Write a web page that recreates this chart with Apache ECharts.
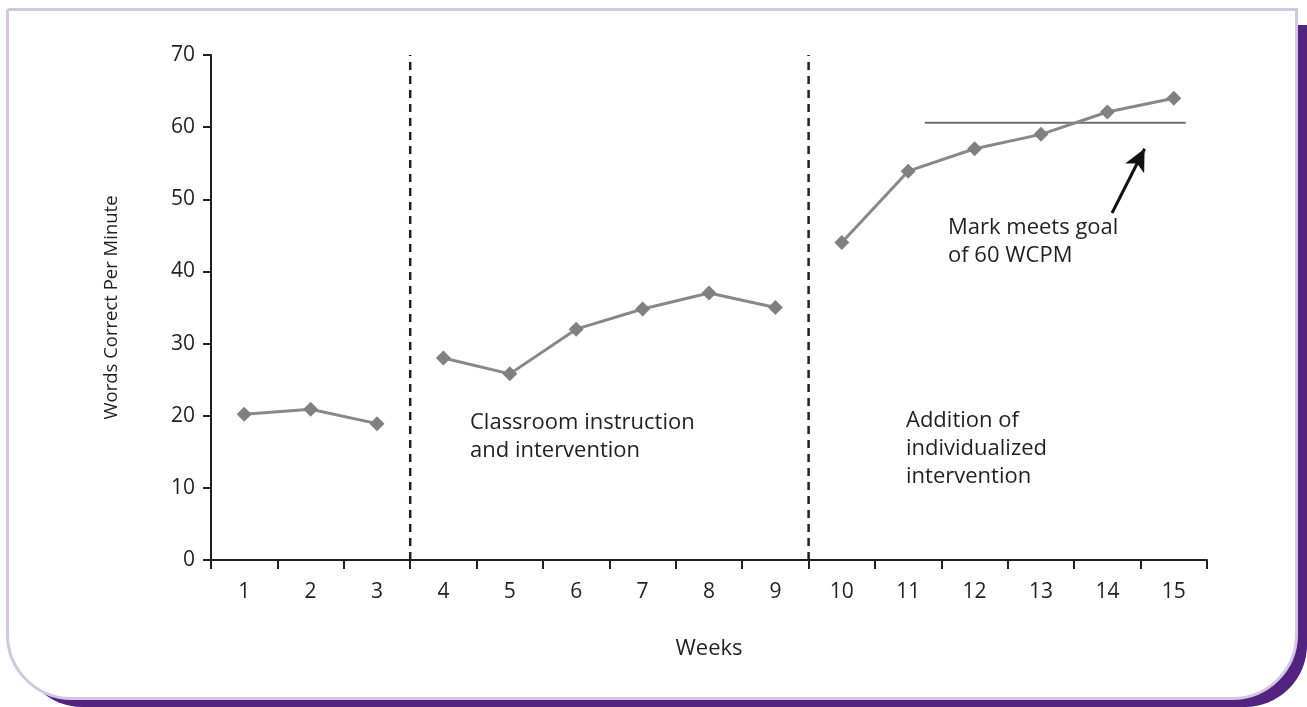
<!DOCTYPE html>
<html>
<head>
<meta charset="utf-8">
<title>Words Correct Per Minute</title>
<script src="https://cdn.jsdelivr.net/npm/echarts@6/dist/echarts.min.js"></script>
<style>
    html, body { margin: 0; padding: 0; background: #fff; }
    #chart { width: 1307px; height: 707px; }
</style>
</head>
<body>
<div id="chart"></div>
<script>
// weeks and scores
var weeks = ['1', '2', '3', '4', '5', '6', '7', '8', '9', '10', '11', '12', '13', '14', '15'];
var wcpm = [20.2, 20.9, 18.9, 28.0, 25.8, 32.0, 34.8, 37.0, 35.0, 44.0, 53.9, 57.0, 59.0, 62.1, 64.0];
// phase breaks (between weeks 3/4 and 9/10), goal line and arrow
var phaseBreaks = [3.5, 9.5];
var goalLine = [[11.25, 60.6], [15.18, 60.6]];
var goalArrow = [[14.07, 48.1], [14.56, 57.0]];
var yTicks = [0, 70, 10];

var FONT = '"Open Sans", Lato, sans-serif';
var TXT = '#231f20';

// split data into the three phases so the line breaks between them
function phase(from, to) {
    var out = [];
    for (var i = 0; i < wcpm.length; i++) {
        out.push(i >= from && i <= to ? wcpm[i] : '-');
    }
    return out;
}

var series = [
    [0, 2], [3, 8], [9, 14]
].map(function (p) {
    return {
        type: 'line',
        data: phase(p[0], p[1]),
        symbol: 'diamond',
        symbolSize: 15,
        connectNulls: false,
        itemStyle: { color: '#808083' },
        lineStyle: { color: '#88888b', width: 3 },
        z: 5
    };
});

phaseBreaks.forEach(function (b) {
    series.push({
        type: 'line',
        xAxisIndex: 1,
        data: [[b, yTicks[0]], [b, yTicks[1]]],
        symbol: 'none',
        lineStyle: { color: '#231f20', width: 2.5, type: [8, 6] },
        z: 3
    });
});

series.push({
    type: 'line',
    xAxisIndex: 1,
    data: goalLine,
    symbol: 'none',
    lineStyle: { color: '#6d6e71', width: 2 },
    z: 4,
    markLine: {
        silent: true,
        symbol: ['none', 'arrow'],
        symbolSize: [16, 22],
        lineStyle: { color: '#111', width: 3, type: 'solid' },
        label: { show: false },
        data: [[{ coord: goalArrow[0] }, { coord: goalArrow[1] }]]
    }
});

function txt(x, y, s) {
    return {
        type: 'text', left: x, top: y, z: 100,
        style: { text: s, font: '22px ' + FONT, fill: TXT, lineHeight: 28 }
    };
}

var chart = echarts.init(document.getElementById('chart'));
chart.setOption({
    animation: false,
    grid: { left: 211, right: 100, top: 55, bottom: 147 },
    xAxis: [{
        type: 'category',
        data: weeks,
        boundaryGap: true,
        axisLine: { lineStyle: { color: '#231f20', width: 2 } },
        axisTick: { show: true, length: 9, lineStyle: { width: 2, color: '#231f20' } },
        axisLabel: { color: TXT, fontSize: 21, fontFamily: FONT, margin: 22 },
        name: 'Weeks',
        nameLocation: 'middle',
        nameGap: 78,
        nameTextStyle: { color: TXT, fontSize: 22, fontFamily: FONT }
    }, {
        type: 'value',
        min: 0.5,
        max: 15.5,
        show: false
    }],
    yAxis: {
        type: 'value',
        min: yTicks[0],
        max: yTicks[1],
        interval: yTicks[2],
        splitLine: { show: false },
        axisLine: { show: true, lineStyle: { color: '#231f20', width: 2 } },
        axisTick: { show: true, length: 8, lineStyle: { width: 2, color: '#231f20' } },
        axisLabel: { color: TXT, fontSize: 21, fontFamily: FONT, margin: 16 },
        name: 'Words Correct Per Minute',
        nameLocation: 'middle',
        nameGap: 90,
        nameTextStyle: { color: TXT, fontSize: 18.5, fontFamily: FONT }
    },
    graphic: [
        {
            type: 'rect', z: -20, silent: true,
            shape: { x: 20, y: 25, width: 1287, height: 682, r: [0, 0, 62, 62] },
            style: { fill: '#532380' }
        },
        {
            type: 'rect', z: -10, silent: true,
            shape: { x: 7.5, y: 9.5, width: 1289, height: 689, r: [0, 0, 64, 64] },
            style: { fill: '#fff', stroke: '#d2c6e2', lineWidth: 3 }
        },
        txt(470, 409, 'Classroom instruction\nand intervention'),
        txt(906, 407, 'Addition of\nindividualized\nintervention'),
        txt(948, 214, 'Mark meets goal\nof 60 WCPM')
    ],
    series: series
});
</script>
</body>
</html>
